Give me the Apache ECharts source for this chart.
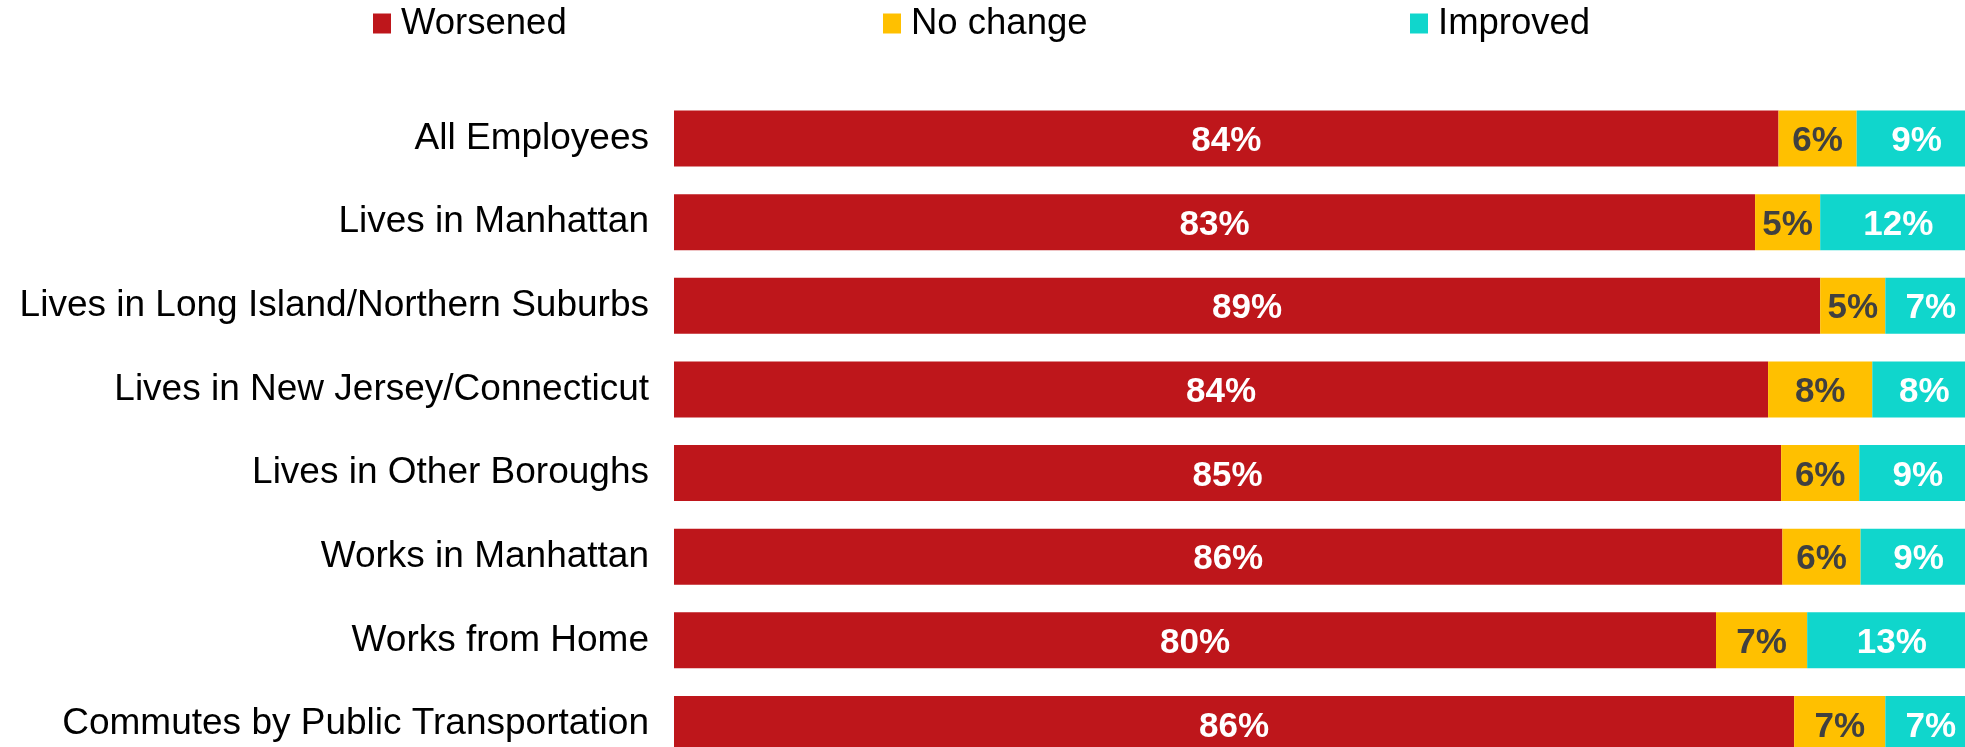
<!DOCTYPE html>
<html>
<head>
<meta charset="utf-8">
<script src="https://cdn.jsdelivr.net/npm/echarts@6/dist/echarts.min.js"></script>
<style>
  html, body { margin: 0; padding: 0; background: #ffffff; }
  #chart { width: 1965px; height: 747px; }
</style>
</head>
<body>
<div id="chart"></div>
<script>
// ---- Data ----
const categories = [
  'All Employees',
  'Lives in Manhattan',
  'Lives in Long Island/Northern Suburbs',
  'Lives in New Jersey/Connecticut',
  'Lives in Other Boroughs',
  'Works in Manhattan',
  'Works from Home',
  'Commutes by Public Transportation'
];
const seriesNames = ['Worsened', 'No change', 'Improved'];
// bar lengths (share of 100%)
const worsened = [84.8, 83, 88, 84, 85, 85.1, 80, 86];
const noChange = [6, 5, 5, 8, 6, 6, 7, 7];
const improved = [9.2, 12, 7, 8, 9, 8.9, 13, 7];
// data labels as printed on the bars
const worsenedLabels = [84, 83, 89, 84, 85, 86, 80, 86];
const noChangeLabels = [6, 5, 5, 8, 6, 6, 7, 7];
const improvedLabels = [9, 12, 7, 8, 9, 9, 13, 7];

const colors = ['#BE161B', '#FFC000', '#10D6CC'];
const FONT = '"Liberation Sans", Arial, Helvetica, sans-serif';

const chart = echarts.init(document.getElementById('chart'), null, { renderer: 'canvas' });

function makeSeries(name, values, labels, color, labelColor) {
  return {
    name: name,
    type: 'bar',
    stack: 'total',
    barWidth: 56,
    itemStyle: { color: color },
    emphasis: { disabled: true },
    label: {
      show: true,
      position: 'inside',
      offset: [0, 3],
      color: labelColor,
      fontFamily: FONT,
      fontSize: 35,
      fontWeight: 'bold',
      formatter: function (p) { return labels[p.dataIndex] + '%'; }
    },
    data: values
  };
}

function makeLegend(name, left) {
  return {
    data: [name],
    left: left,
    top: 1,
    padding: 0,
    icon: 'rect',
    itemWidth: 18,
    itemHeight: 20,
    selectedMode: false,
    textStyle: {
      fontFamily: FONT,
      fontSize: 36.5,
      color: '#000000',
      lineHeight: 40,
      padding: [5, 0, 0, 5]
    }
  };
}

const option = {
  animation: false,
  backgroundColor: '#ffffff',
  color: colors,
  legend: [
    makeLegend(seriesNames[0], 373),
    makeLegend(seriesNames[1], 883),
    makeLegend(seriesNames[2], 1410)
  ],
  grid: {
    left: 674,
    top: 96.7,
    width: 1302.5,
    height: 669.1,
    containLabel: false,
    outerBoundsMode: 'none'
  },
  xAxis: {
    type: 'value',
    min: 0,
    max: 100,
    show: false,
    splitLine: { show: false }
  },
  yAxis: {
    type: 'category',
    inverse: true,
    data: categories,
    axisLine: { show: false },
    axisTick: { show: false },
    splitLine: { show: false },
    axisLabel: {
      margin: 25,
      color: '#000000',
      fontFamily: FONT,
      fontSize: 37,
      padding: [6, 0, 0, 0]
    }
  },
  series: [
    makeSeries(seriesNames[0], worsened, worsenedLabels, colors[0], '#ffffff'),
    makeSeries(seriesNames[1], noChange, noChangeLabels, colors[1], '#404040'),
    makeSeries(seriesNames[2], improved, improvedLabels, colors[2], '#ffffff')
  ]
};

chart.setOption(option);
</script>
</body>
</html>
